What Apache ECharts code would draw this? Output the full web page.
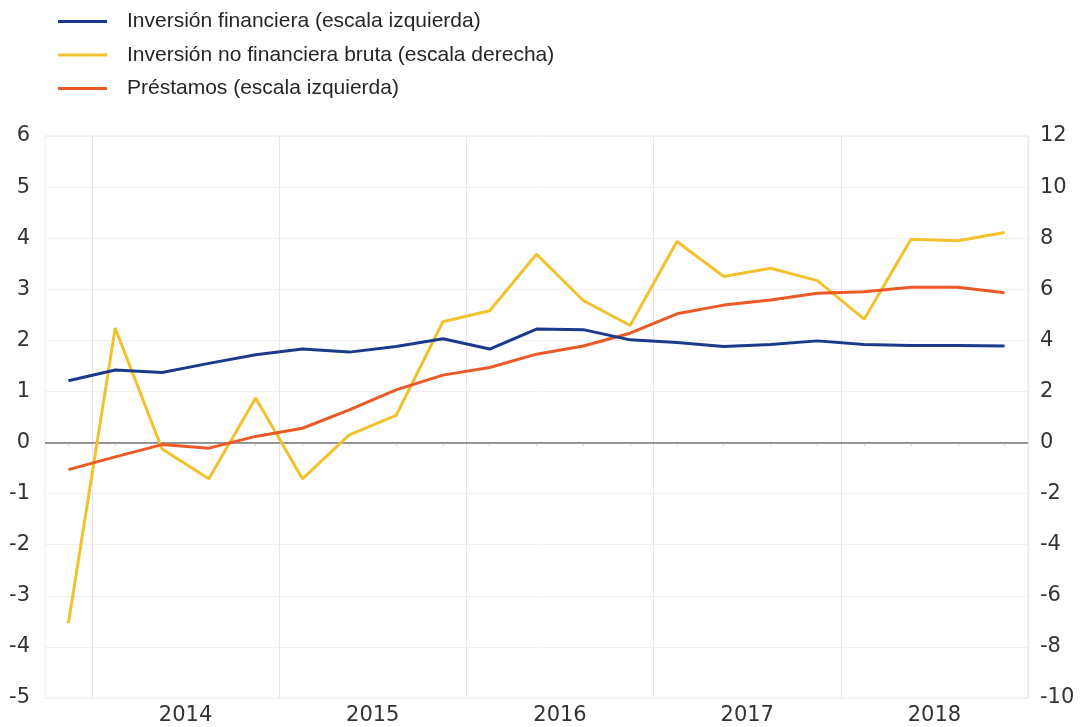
<!DOCTYPE html>
<html>
<head>
<meta charset="utf-8">
<script src="https://cdn.jsdelivr.net/npm/echarts@6/dist/echarts.min.js"></script>
<style>
html,body{margin:0;padding:0;background:#fff;}
#chart{width:1081px;height:727px;}
</style>
</head>
<body>
<div id="chart"></div>
<script>
const categories = ['2013Q4','2014Q1','2014Q2','2014Q3','2014Q4','2015Q1','2015Q2','2015Q3','2015Q4','2016Q1','2016Q2','2016Q3','2016Q4','2017Q1','2017Q2','2017Q3','2017Q4','2018Q1','2018Q2','2018Q3','2018Q4'];
const inversionFinanciera = [1.21,1.42,1.37,1.55,1.72,1.83,1.77,1.88,2.03,1.83,2.22,2.21,2.01,1.96,1.88,1.92,1.99,1.92,1.90,1.90,1.89];
const inversionNoFinanciera = [-7.07,4.48,-0.25,-1.42,1.74,-1.42,0.30,1.06,4.73,5.16,7.37,5.56,4.58,7.87,6.50,6.82,6.34,4.83,7.96,7.90,8.22];
const prestamos = [-0.53,-0.28,-0.04,-0.11,0.12,0.28,0.64,1.03,1.32,1.47,1.73,1.89,2.14,2.52,2.69,2.79,2.92,2.95,3.04,3.04,2.93];
const seriesNames = ['Inversión financiera (escala izquierda)','Inversión no financiera bruta (escala derecha)','Préstamos (escala izquierda)'];
const colors = ['#1b3a8c','#f2c12e','#eb5a26'];

const legendFont = 'Liberation Sans, Arial, sans-serif';
const tickFont = 'DejaVu Sans, sans-serif';
const chart = echarts.init(document.getElementById('chart'), null, {renderer:'canvas'});
chart.setOption({
  animation:false,
  backgroundColor:'#fff',
  color: colors,
  legend:{
    orient:'vertical', left:58, top:11, padding:0, itemGap:12.5,
    itemWidth:49, itemHeight:3, icon:'rect',
    textStyle:{fontFamily:legendFont, fontSize:21, color:'#262626', padding:[0,0,0,15]},
    data: seriesNames
  },
  grid:{left:45, right:53, top:136, bottom:29, show:true, borderColor:'#e8e8e8', borderWidth:1, containLabel:false},
  xAxis:{
    type:'category', data:categories, boundaryGap:true,
    axisLine:{show:true, lineStyle:{color:'#e0e0e0'}},
    axisTick:{show:true, alignWithLabel:true, interval:0, length:4, lineStyle:{color:'#e0e0e0'}},
    splitLine:{show:true, interval:function(i){return i%4===1;}, lineStyle:{color:'#e6e6e6'}},
    axisLabel:{
      interval:function(i){return i%4===2;},
      formatter:function(v){return v.slice(0,4);},
      padding:[0,0,0,47], align:'center', margin:7,
      fontFamily:tickFont, fontSize:21, color:'#333'
    }
  },
  yAxis:[
    {type:'value', min:-5, max:6, interval:1, position:'left',
     axisLine:{show:false}, axisTick:{show:false},
     splitLine:{show:true, lineStyle:{color:'#f0f0f0'}},
     axisLabel:{margin:15, fontFamily:tickFont, fontSize:21, color:'#333'}},
    {type:'value', min:-10, max:12, interval:2, position:'right',
     axisLine:{show:false}, axisTick:{show:false},
     splitLine:{show:false},
     axisLabel:{margin:12, fontFamily:tickFont, fontSize:21, color:'#333'}}
  ],
  series:[
    {name:seriesNames[0], type:'line', yAxisIndex:0, data:inversionFinanciera, symbol:'none', z:3,
     lineStyle:{width:3, color:colors[0]},
     markLine:{silent:true, symbol:'none', label:{show:false}, lineStyle:{color:'#777', width:1.5, type:'solid'}, data:[{yAxis:0}], z:1}},
    {name:seriesNames[1], type:'line', yAxisIndex:1, data:inversionNoFinanciera, symbol:'none', z:2,
     lineStyle:{width:3, color:colors[1]}},
    {name:seriesNames[2], type:'line', yAxisIndex:0, data:prestamos, symbol:'none', z:2,
     lineStyle:{width:3, color:colors[2]}}
  ]
});
</script>
</body>
</html>
